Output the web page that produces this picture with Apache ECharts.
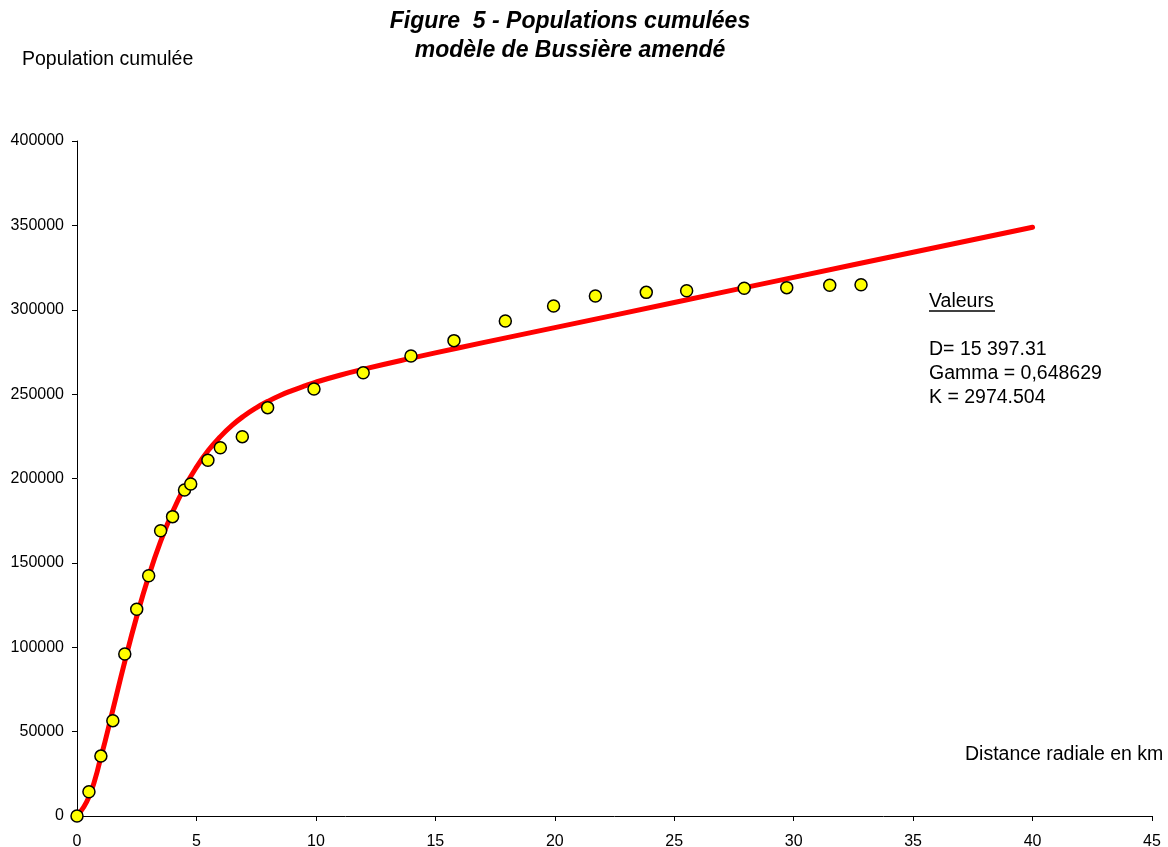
<!DOCTYPE html>
<html>
<head>
<meta charset="utf-8">
<title>Populations cumulées</title>
<script src="https://cdn.jsdelivr.net/npm/echarts@6/dist/echarts.min.js"></script>
<style>
  html, body { margin: 0; padding: 0; background: #fff; }
  #chart { width: 1168px; height: 847px; }
</style>
</head>
<body>
<div id="chart"></div>
<script>
// Observed cumulated population by radial distance (km)
const obsDistance = [0, 0.5, 1, 1.5, 2, 2.5, 3, 3.5, 4, 4.5, 4.76, 5.48, 6, 6.92, 7.98, 9.92,
  11.98, 13.98, 15.78, 17.93, 19.95, 21.7, 23.83, 25.52, 27.93, 29.71, 31.51, 32.82];
const obsPopulation = [0, 14400, 35500, 56500, 96000, 122500, 142400, 169000, 177400, 193200, 196700, 210800,
  218200, 224800, 242000, 253000, 262700, 272600, 281700, 293300, 302200, 308100, 310300,
  311300, 312700, 313100, 314500, 314800];

// Fitted model curve (amended Bussière model)
const modelDistance = [0, 0.5, 1, 1.5, 2, 2.5, 3, 3.5, 4, 4.5, 5, 5.5, 6, 6.5, 7, 7.5, 8, 8.5, 9,
  9.5, 10, 11, 12, 14, 16, 18, 20, 25, 30, 35, 40];
const modelPopulation = [0, 11300, 34800, 62900, 91500, 118200, 142100, 162700, 180100, 194700,
  206700, 216700, 224800, 231600, 237200, 241900, 245800, 249200, 252100, 254700, 257100,
  261200, 264800, 271300, 277500, 283500, 289400, 304300, 319200, 334100, 348900];

// Axis ticks
const xTicks = [0, 5, 10, 15, 20, 25, 30, 35, 40, 45];
const yTicks = [0, 50000, 100000, 150000, 200000, 250000, 300000, 350000, 400000];

// Fitted parameter labels
const paramTitle = 'Valeurs';
const paramLines = ['D= 15 397.31', 'Gamma = 0,648629', 'K = 2974.504'];

const FONT = '"Liberation Sans", Arial, Helvetica, sans-serif';

const chart = echarts.init(document.getElementById('chart'), null, { renderer: 'canvas' });

const zip = (xs, ys) => xs.map((x, i) => [x, ys[i]]);

const axisCommon = {
  type: 'value',
  splitLine: { show: false },
  axisLine: { show: true, lineStyle: { color: '#000', width: 1 } },
  axisTick: { show: true, length: 5, lineStyle: { color: '#000', width: 1 } },
  axisLabel: { color: '#000', fontSize: 16, fontFamily: FONT, formatter: v => String(v) }
};

const textStyle = (text, font, align) => ({ text, font, fill: '#000', textAlign: align, textVerticalAlign: 'middle' });

const graphics = [
  { type: 'text', x: 570, y: 22, style: textStyle('Figure  5 - Populations cumulées', 'italic bold 23px ' + FONT, 'center') },
  { type: 'text', x: 570, y: 51, style: textStyle('modèle de Bussière amendé', 'italic bold 23px ' + FONT, 'center') },
  { type: 'text', x: 22, y: 60, style: textStyle('Population cumulée', '19.5px ' + FONT, 'left') },
  { type: 'text', x: 965, y: 755, style: textStyle('Distance radiale en km', '19.5px ' + FONT, 'left') },
  { type: 'text', x: 929, y: 302, style: textStyle(paramTitle, '19.5px ' + FONT, 'left') },
  { type: 'line', shape: { x1: 929, y1: 311, x2: 995, y2: 311 }, style: { stroke: '#000', lineWidth: 1.3 } }
];
paramLines.forEach((t, i) => {
  graphics.push({ type: 'text', x: 929, y: 350 + i * 23.7, style: textStyle(t, '19.5px ' + FONT, 'left') });
});

chart.setOption({
  animation: false,
  backgroundColor: '#fff',
  grid: { left: 77, right: 16, top: 141, bottom: 31, containLabel: false, outerBoundsMode: 'none' },
  xAxis: Object.assign({}, axisCommon, {
    min: xTicks[0], max: xTicks[xTicks.length - 1], interval: xTicks[1] - xTicks[0],
    axisLabel: Object.assign({}, axisCommon.axisLabel, { margin: 18 })
  }),
  yAxis: Object.assign({}, axisCommon, {
    min: yTicks[0], max: yTicks[yTicks.length - 1], interval: yTicks[1] - yTicks[0],
    axisLabel: Object.assign({}, axisCommon.axisLabel, { margin: 13 })
  }),
  series: [
    {
      name: 'Modèle',
      type: 'line',
      data: zip(modelDistance, modelPopulation),
      smooth: 0.5,
      showSymbol: false,
      lineStyle: { color: '#ff0000', width: 5, cap: 'round', join: 'round' },
      z: 2
    },
    {
      name: 'Observé',
      type: 'scatter',
      data: zip(obsDistance, obsPopulation),
      symbol: 'circle',
      symbolSize: 12,
      itemStyle: { color: '#ffff00', borderColor: '#000', borderWidth: 1.5, opacity: 1 },
      z: 3
    }
  ],
  graphic: graphics
});
</script>
</body>
</html>
